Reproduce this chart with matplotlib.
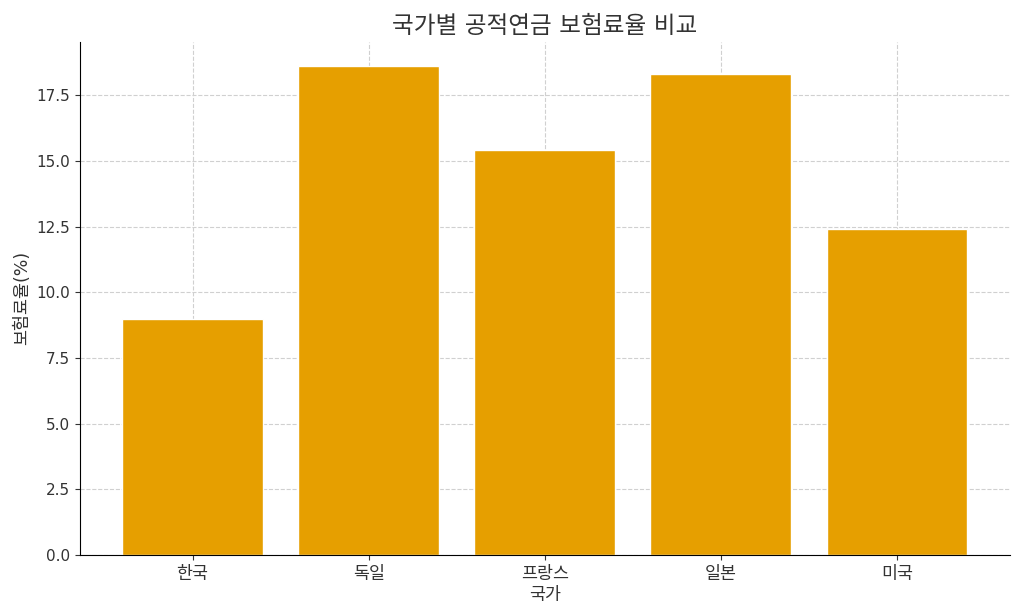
import matplotlib
matplotlib.use('Agg')
from matplotlib import pyplot as plt

plt.rcParams['font.family'] = ['DejaVu Sans', 'Noto Sans CJK KR']

# 국가별 보험료율
countries = ['한국', '독일', '프랑스', '일본', '미국']
rates = [9.0, 18.6, 15.4, 18.3, 12.4]

fig, ax = plt.subplots(figsize=(10.24, 6.14), dpi=100)
ax.bar(countries, rates, color='#E69F00', edgecolor='white', width=0.8, zorder=2)

ax.set_title('국가별 공적연금 보험료율 비교', fontsize=17, color='#333333')
ax.set_xlabel('국가', fontsize=12.5, color='#333333', labelpad=2)
ax.set_ylabel('보험료율(%)', fontsize=12.5, color='#333333')
ax.tick_params(axis='y', labelsize=11, colors='#333333')
ax.tick_params(axis='x', labelsize=12.5, colors='#333333')
ax.grid(True, linestyle='--', color='#d0d0d0', linewidth=0.8, zorder=0)
ax.set_axisbelow(True)
ax.spines['top'].set_visible(False)
ax.spines['right'].set_visible(False)

plt.subplots_adjust(left=0.078, right=0.986, top=0.932, bottom=0.096)
plt.savefig('out.png')
